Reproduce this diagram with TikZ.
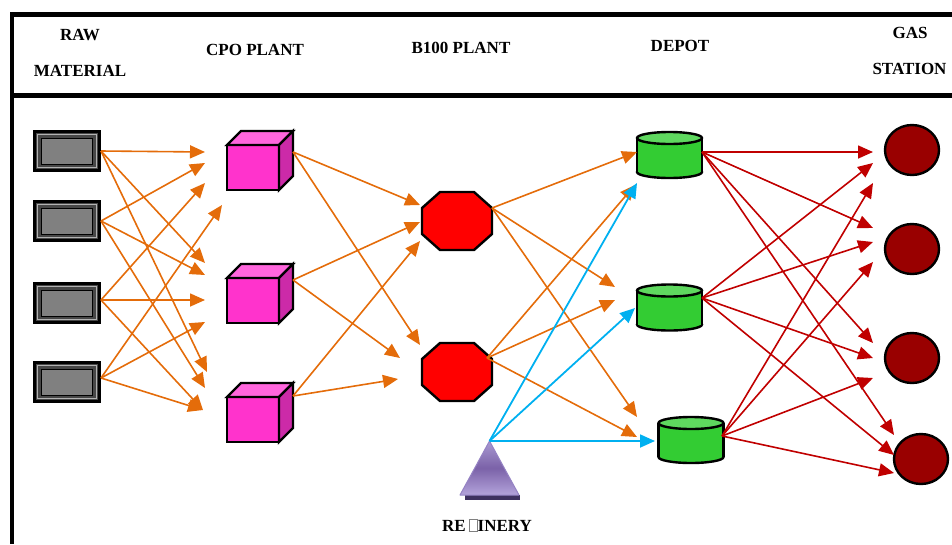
\documentclass[tikz,border=0pt]{standalone}
\usepackage{fontspec}
\setmainfont{Liberation Serif}
\usetikzlibrary{arrows.meta,calc,shapes.geometric}

\definecolor{flowOrange}{HTML}{E46C0A}
\definecolor{flowRed}{HTML}{C00000}
\definecolor{flowBlue}{HTML}{00B0F0}
\definecolor{cubeFront}{HTML}{FF33CC}
\definecolor{cubeTop}{HTML}{FF66DD}
\definecolor{cubeSide}{HTML}{CC2AA8}
\definecolor{octRed}{HTML}{FF0000}
\definecolor{tankBody}{HTML}{33CC33}
\definecolor{tankTop}{HTML}{5FD85F}
\definecolor{stationRed}{HTML}{990000}
\definecolor{rawGray}{HTML}{808080}
\definecolor{refTop}{HTML}{A99AD2}
\definecolor{refMid}{HTML}{7B62A8}
\definecolor{refBot}{HTML}{B3A3DB}
\definecolor{refEdge}{HTML}{9583C4}
\definecolor{refShadow}{HTML}{3E3160}

\tikzset{
  hdr/.style={font=\fontsize{17}{20}\selectfont\bfseries, inner sep=0pt},
  holder/.style={inner sep=0pt, outer sep=0pt, draw=none},
  outline/.style={draw=black, line width=2.4pt, line join=miter},
  headtip/.style={-{Triangle[length=15pt,width=13pt]}},
  oflow/.style={headtip, draw=flowOrange, fill=flowOrange, line width=1.6pt},
  rflow/.style={headtip, draw=flowRed, fill=flowRed, line width=1.6pt},
  bflow/.style={headtip, draw=flowBlue, fill=flowBlue, line width=1.8pt},
}

% raw material block: name, centre x, centre y
\newcommand\mkraw[3]{%
  \node[holder, fill=black, minimum width=68pt, minimum height=42pt] (#1) at (#2,#3) {};
  \fill[black!72] ([shift={(3,3)}]#1.north west) rectangle ([shift={(-3,-3)}]#1.south east);
  \draw[black!30, line width=0.8pt] ([shift={(4.5,4.5)}]#1.north west) rectangle ([shift={(-4.5,-4.5)}]#1.south east);
  \filldraw[fill=rawGray, draw=black, line width=0.9pt] ([shift={(8.5,8)}]#1.north west) rectangle ([shift={(-8.5,-8)}]#1.south east);
}
% plant cube: name, x and y of the front face's top-left corner
\newcommand\mkcube[3]{%
  \node[holder, minimum width=66pt, minimum height=59pt] (#1) at (#2+33,#3+15.5) {};
  \filldraw[outline, fill=cubeFront] (#2,#3) rectangle ++(52,45);
  \filldraw[outline, fill=cubeTop] (#2,#3) -- ++(14,-14) -- ++(52,0) -- ++(-14,14) -- cycle;
  \filldraw[outline, fill=cubeSide] (#2+52,#3) -- ++(14,-14) -- ++(0,45) -- ++(-14,14) -- cycle;
}
% octagon: name, centre x, centre y
\newcommand\mkoct[3]{%
  \node[holder, minimum width=70pt, minimum height=58pt] (#1) at (#2,#3) {};
  \begin{scope}[shift={(#2,#3)}]
    \filldraw[outline, fill=octRed] (-17,-29) -- (17,-29) -- (35,-13) -- (35,13)
      -- (17,29) -- (-17,29) -- (-35,13) -- (-35,-13) -- cycle;
  \end{scope}
}
% depot tank: name, centre x, centre y
\newcommand\mktank[3]{%
  \node[holder, minimum width=65pt, minimum height=46pt] (#1) at (#2,#3) {};
  \begin{scope}[shift={(#2,#3)}]
    \filldraw[outline, fill=tankBody] (0,17) ellipse [x radius=32.5, y radius=6];
    \fill[tankBody] (-32.5,-17) rectangle (32.5,17);
    \draw[outline] (-32.5,-17) -- (-32.5,17) (32.5,-17) -- (32.5,17);
    \filldraw[outline, fill=tankTop] (0,-17) ellipse [x radius=32.5, y radius=6];
  \end{scope}
}

\begin{document}
\begin{tikzpicture}[x=1pt, y=-1pt]
  \useasboundingbox (0,0) rectangle (952,544);

  % frame and header rule
  \draw[line width=5pt] (10,14) -- (952,14);
  \draw[line width=4pt] (12,12) -- (12,544);
  \draw[line width=5pt] (10,95) -- (952,95);

  % column headings
  \node[hdr] (hRaw) at (80,35) {RAW};
  \node[hdr] (hMat) at (80,71) {MATERIAL};
  \node[hdr] (hCpo) at (255,50) {CPO PLANT};
  \node[hdr] (hBio) at (461,48) {B100 PLANT};
  \node[hdr] (hDep) at (680,46) {DEPOT};
  \node[hdr] (hGas) at (910,33) {GAS};
  \node[hdr] (hSta) at (909.5,69) {STATION};

  % raw material sources
  \mkraw{r1}{67}{151}
  \mkraw{r2}{67}{221}
  \mkraw{r3}{67}{303}
  \mkraw{r4}{67}{382}

  % CPO plants
  \mkcube{c1}{227}{145}
  \mkcube{c2}{227}{278}
  \mkcube{c3}{227}{397}

  % B100 plants
  \mkoct{o1}{457}{221}
  \mkoct{o2}{457}{372}

  % depots
  \mktank{d1}{669.5}{155}
  \mktank{d2}{669.5}{307.5}
  \mktank{d3}{691}{440}

  % gas stations
  \foreach \nm/\cx/\cy in {g1/912/150, g2/912/249, g3/912/358, g4/921/459}
    \node[holder, ellipse, minimum width=54pt, minimum height=50pt,
          outline, fill=stationRed] (\nm) at (\cx,\cy) {};

  % refinery
  \node[holder, minimum width=59pt, minimum height=54pt] (ref) at (489.5,468) {};
  \fill[refShadow] (465,495) rectangle (520,500);
  \shade[top color=refTop, bottom color=refBot, middle color=refMid]
    (ref.north) -- (519,495) -- (460,495) -- cycle;
  \draw[refEdge, line width=1pt, line join=round] (ref.north) -- (519,495) -- (460,495) -- cycle;
  \node[hdr] (refLbl) at (487,525)
    {RE\,{\setlength\fboxsep{0pt}\setlength\fboxrule{0.5pt}\color{gray}\fbox{\rule{0pt}{12pt}\hspace{8pt}}}INERY};

  % raw material -> CPO plant
  \draw[oflow] (r1.east) -- ([shift={(-22,-8.5)}]c1.west);
  \draw[oflow] (r1.east) -- ([shift={(-22,-30.5)}]c2.west);
  \draw[oflow] (r1.east) -- ([shift={(-20,-40.5)}]c3.west);
  \draw[oflow] (r2.east) -- ([shift={(-22,2.5)}]c1.west);
  \draw[oflow] (r2.east) -- ([shift={(-22,-18.5)}]c2.west);
  \draw[oflow] (r2.east) -- ([shift={(-22,-24.5)}]c3.west);
  \draw[oflow] ([shift={(0,-3)}]r3.east) -- ([shift={(-22,22.5)}]c1.west);
  \draw[oflow] ([shift={(0,-3)}]r3.east) -- ([shift={(-22,6.5)}]c2.west);
  \draw[oflow] ([shift={(0,-3)}]r3.east) -- ([shift={(-24,-2.5)}]c3.west);
  \draw[oflow] ([shift={(0,-4)}]r4.east) -- ([shift={(-5,44.5)}]c1.west);
  \draw[oflow] ([shift={(0,-4)}]r4.east) -- ([shift={(-22,28.5)}]c2.west);
  \draw[oflow] ([shift={(0,-4)}]r4.east) -- ([shift={(-24,-2.5)}]c3.west);

  % CPO plant -> B100 plant
  \draw[oflow] ([shift={(0,-8.5)}]c1.east) -- ([shift={(-2,-16)}]o1.west);
  \draw[oflow] ([shift={(0,-8.5)}]c1.east) -- ([shift={(-2,-27)}]o2.west);
  \draw[oflow] ([shift={(0,-13.5)}]c2.east) -- ([shift={(-2,1)}]o1.west);
  \draw[oflow] ([shift={(0,-13.5)}]c2.east) -- ([shift={(-22,-14)}]o2.west);
  \draw[oflow] ([shift={(0,-16.5)}]c3.east) -- ([shift={(-2,20)}]o1.west);
  \draw[oflow] ([shift={(0,-16.5)}]c3.east) -- ([shift={(-24,7)}]o2.west);

  % B100 plant -> depot
  \draw[oflow] ([shift={(0,-13)}]o1.east) -- ([shift={(0,-3)}]d1.west);
  \draw[oflow] ([shift={(0,-13)}]o1.east) -- ([shift={(-22,-20.5)}]d2.west);
  \draw[oflow] ([shift={(0,-13)}]o1.east) -- ([shift={(-21.5,-23)}]d3.west);
  \draw[oflow] ([shift={(-5,-14)}]o2.east) -- ([shift={(-2,30)}]d1.west);
  \draw[oflow] ([shift={(-5,-14)}]o2.east) -- ([shift={(-22,-7.5)}]d2.west);
  \draw[oflow] ([shift={(-5,-14)}]o2.east) -- ([shift={(-21.5,-3)}]d3.west);

  % refinery -> depot
  \draw[bflow] (ref.north) -- ([shift={(0,28)}]d1.west);
  \draw[bflow] (ref.north) -- ([shift={(-2,0.5)}]d2.west);
  \draw[bflow] (ref.north) -- ([shift={(-3.5,1)}]d3.west);

  % depot -> gas station
  \draw[rflow] ([shift={(0,-3)}]d1.east) -- ([shift={(-12,2)}]g1.west);
  \draw[rflow] ([shift={(0,-3)}]d1.east) -- ([shift={(-12,-21)}]g2.west);
  \draw[rflow] ([shift={(0,-3)}]d1.east) -- ([shift={(-12,-15)}]g3.west);
  \draw[rflow] ([shift={(0,-3)}]d1.east) -- ([shift={(0,-24)}]g4.west);
  \draw[rflow] ([shift={(0,-9.5)}]d2.east) -- ([shift={(-12,13)}]g1.west);
  \draw[rflow] ([shift={(0,-9.5)}]d2.east) -- ([shift={(-12,-7)}]g2.west);
  \draw[rflow] ([shift={(0,-9.5)}]d2.east) -- ([shift={(-12,0)}]g3.west);
  \draw[rflow] ([shift={(0,-9.5)}]d2.east) -- ([shift={(0,-4)}]g4.west);
  \draw[rflow] ([shift={(-1.5,-4)}]d3.east) -- ([shift={(-12,33)}]g1.west);
  \draw[rflow] ([shift={(-1.5,-4)}]d3.east) -- ([shift={(-12,13)}]g2.west);
  \draw[rflow] ([shift={(-1.5,-4)}]d3.east) -- ([shift={(-12,20)}]g3.west);
  \draw[rflow] ([shift={(-1.5,-4)}]d3.east) -- ([shift={(0,14)}]g4.west);
\end{tikzpicture}
\end{document}
